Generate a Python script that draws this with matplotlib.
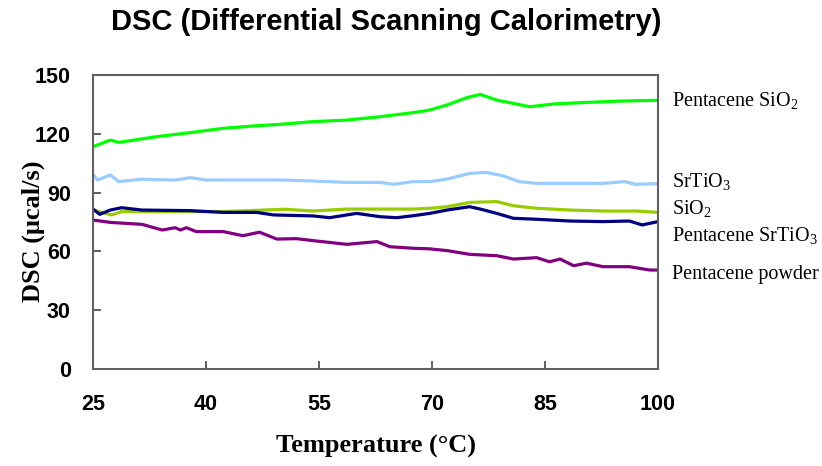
import matplotlib
matplotlib.use("Agg")
import matplotlib.pyplot as plt

# ---- data ----
T_green = [25, 27.3, 28.4, 33.4, 37.9, 42.3, 46.7, 49.8, 54.2, 58.7, 63.1, 67.5, 69.7, 72.0, 74.6, 76.4, 78.6, 80.8, 83.0, 86.1, 90.5, 95.0, 100]
v_green = [113.4, 116.8, 115.6, 118.5, 120.6, 122.8, 124.1, 124.8, 126.2, 127.0, 128.7, 130.8, 132.1, 134.7, 138.4, 140.1, 137.2, 135.5, 133.8, 135.2, 136.0, 136.7, 137.1]

T_blue = [25, 25.6, 27.3, 28.4, 31.5, 35.9, 37.9, 40.1, 44.5, 50.5, 54.2, 58.7, 63.1, 64.9, 67.5, 69.7, 72.0, 75.0, 77.2, 79.4, 81.6, 83.9, 88.3, 92.7, 95.6, 97.0, 100]
v_blue = [99.3, 96.4, 99.0, 95.6, 96.8, 96.4, 97.6, 96.4, 96.4, 96.4, 95.9, 95.2, 95.2, 94.2, 95.6, 95.6, 96.9, 99.8, 100.3, 98.6, 95.6, 94.7, 94.7, 94.7, 95.6, 94.2, 94.6]

T_lime = [25, 26.1, 27.5, 28.8, 33.4, 42.3, 50.5, 54.2, 58.7, 63.1, 67.5, 69.7, 72.0, 75.0, 78.6, 80.8, 83.9, 88.3, 92.7, 97.1, 100]
v_lime = [81.1, 80.0, 78.6, 80.3, 80.3, 80.3, 81.5, 80.6, 81.6, 81.6, 81.6, 82.0, 82.8, 85.0, 85.4, 83.3, 82.0, 81.1, 80.6, 80.6, 79.9]

T_navy = [25, 25.9, 27.3, 28.8, 31.5, 37.9, 42.3, 46.7, 49.0, 54.2, 56.4, 60.0, 63.1, 65.3, 67.5, 69.7, 72.0, 75.0, 76.4, 78.6, 80.8, 83.9, 88.3, 92.7, 96.2, 97.9, 100]
v_navy = [81.6, 78.9, 81.1, 82.3, 81.1, 80.8, 79.9, 79.9, 78.6, 78.1, 77.2, 79.4, 77.7, 77.2, 78.2, 79.4, 81.1, 82.8, 81.6, 79.4, 76.9, 76.4, 75.5, 75.2, 75.5, 73.5, 75.2]

T_purple = [25, 27.3, 31.5, 34.2, 35.9, 36.6, 37.4, 38.7, 42.3, 44.9, 47.1, 49.4, 52.0, 54.2, 58.7, 62.7, 64.4, 67.5, 69.7, 72.0, 75.0, 78.6, 80.8, 83.9, 85.6, 87.0, 88.8, 90.5, 92.7, 96.2, 98.9, 100]
v_purple = [76.0, 74.8, 73.8, 70.9, 72.1, 70.9, 72.1, 70.1, 70.1, 68.0, 69.8, 66.3, 66.5, 65.5, 63.6, 65.0, 62.4, 61.6, 61.3, 60.4, 58.5, 57.8, 56.1, 56.8, 54.7, 56.1, 52.7, 54.0, 52.2, 52.2, 50.5, 50.5]

series_labels = [r"Pentacene SiO$_2$", r"SrTiO$_3$", r"SiO$_2$", r"Pentacene SrTiO$_3$", "Pentacene powder"]
label_vals = [137.0, 95.5, 82.0, 68.0, 48.0]
colors = ["#00FF00", "#99CCFF", "#99CC00", "#000080", "#800080"]

x_ticks = [25, 40, 55, 70, 85, 100]
y_ticks = [0, 30, 60, 90, 120, 150]

plt.rcParams["mathtext.fontset"] = "custom"
plt.rcParams["mathtext.rm"] = "Liberation Serif"
plt.rcParams["mathtext.it"] = "Liberation Serif:italic"

fig = plt.figure(figsize=(8.22, 4.66), dpi=100)
ax = fig.add_axes([93/822, 1-369/466, (658-93)/822, (369-75)/466])

series = [(T_green, v_green), (T_blue, v_blue), (T_lime, v_lime), (T_navy, v_navy), (T_purple, v_purple)]
for (t, v), c in zip(series, colors):
    ax.plot(t, v, color=c, lw=2.3, solid_joinstyle="round")

ax.set_xlim(25, 100)
ax.set_ylim(0, 150)
ax.set_xticks(x_ticks)
ax.set_yticks(y_ticks)
tickfont = dict(family="Liberation Sans", weight="bold", size=15.5)
ax.set_xticklabels([str(x) for x in x_ticks], **tickfont)
ax.set_yticklabels([str(y) for y in y_ticks], **tickfont)
ax.tick_params(axis="both", direction="in", length=6, width=1.2, color="#444444")
ax.tick_params(axis="x", pad=18)
ax.tick_params(axis="y", pad=16)
for s in ax.spines.values():
    s.set_color("#606060")
    s.set_linewidth(1.5)

ax.set_xlabel("Temperature (°C)", family="Liberation Serif", weight="bold", size=19, labelpad=14)
ax.set_ylabel("DSC (μcal/s)", family="Liberation Serif", weight="bold", size=19)
ax.yaxis.set_label_coords(-0.085, 0.47)

for lab, val in zip(series_labels, label_vals):
    ax.text(1.025, val, lab, transform=ax.get_yaxis_transform(), family="Liberation Serif",
            size=14.5, va="center", ha="left", clip_on=False)

fig.text(386/822, 1-22/466, "DSC (Differential Scanning Calorimetry)", ha="center", va="center",
         family="Liberation Sans", weight="bold", size=21)

fig.savefig("out.png", dpi=100)
